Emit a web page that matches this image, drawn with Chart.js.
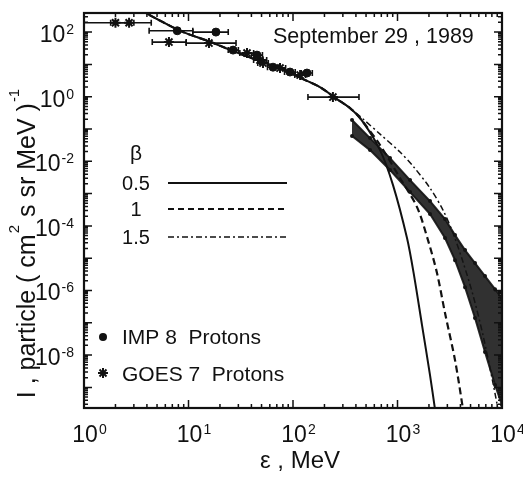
<!DOCTYPE html>
<html>
<head>
<meta charset="utf-8">
<script src="https://cdn.jsdelivr.net/npm/chart.js@4.4.1/dist/chart.umd.min.js"></script>
<style>
  html, body { margin: 0; padding: 0; background: #fff; }
  #wrap { width: 523px; height: 480px; }
</style>
</head>
<body>
<div id="wrap"><canvas id="chart" width="523" height="480"></canvas></div>
<script>
// energy in MeV, intensity in (cm2 s sr MeV)^-1
const modelCommonE = [2.75, 3.75, 8.48, 16.4, 26.7, 45.2, 75.1, 119, 181, 264, 351];
const modelCommonI = [736, 416, 107, 49, 25.8, 13.6, 7.7, 3.77, 1.98, 0.843, 0.444];

// beta = 0.5 (solid)
const beta05E = [468, 681, 906, 1233, 1438, 1716, 2047, 2285, 2443];
const beta05I = [0.164, 0.0222, 1.83e-3, 4.19e-5, 3.0e-6, 8.5e-8, 2.4e-9, 2.1e-10, 4.8e-11];
// beta = 1 (dashed)
const beta1E = [438, 681, 1057, 1538, 1958, 2388, 2849, 3551, 4236, 4529];
const beta1I = [0.217, 0.0317, 3.02e-3, 3.82e-4, 3.63e-5, 3.46e-6, 2.0e-7, 7.0e-9, 2.1e-10, 4.8e-11];
// beta = 1.5 (dash-dot)
const beta15E = [468, 681, 1057, 1407, 2047, 2725, 3398, 4236, 5278, 6577, 8202, 9572];
const beta15I = [0.203, 0.0695, 0.0193, 7.1e-3, 1.48e-3, 3.08e-4, 5.98e-5, 7.6e-6, 7.2e-7, 4.16e-8, 1.36e-9, 9.8e-11];

// dense high energy spectrum, upper / lower envelope of the black band
const bandE  = [367, 546, 848, 1318, 2047, 2849, 3551, 4428, 5516, 6874, 8577, 10000];
const bandHi = [0.189, 0.0522, 0.01256, 2.62e-3, 5.86e-4, 1.63e-4, 5.19e-5, 1.78e-5, 7.05e-6, 2.79e-6, 1.10e-6, 5.8e-7];
const bandLo = [0.0603, 0.0222, 5.35e-3, 1.11e-3, 2.32e-4, 4.19e-5, 8.7e-6, 1.27e-6, 1.40e-7, 1.24e-8, 1.18e-9, 2.83e-10];

// IMP 8 protons
const impE   = [7.8, 18.3, 26.7, 45.2, 64.4, 93.6, 136];
const impI   = [110, 100, 27.7, 19.4, 8.2, 5.8, 5.4];
const impELo = [4.2, 11, 24, 40, 57, 83, 120];
const impEHi = [11, 24, 30, 51, 73, 105, 153];

// GOES 7 protons
const goesE   = [2.0, 2.7, 6.5, 15.7, 36.3, 48.3, 51.6, 75.1, 117, 241];
const goesI   = [195, 195, 49, 45.7, 22.4, 13.6, 11.0, 7.7, 4.67, 0.97];
const goesELo = [1.0, 1.8, 4.5, 9.5, 31, 42, 46, 66, 104, 139];
const goesEHi = [3.0, 4.4, 9.5, 28.5, 42, 56, 58, 85, 132, 428];

const xLabelExp = [0, 1, 2, 3, 4];
const yLabelExp = [2, 0, -2, -4, -6, -8];
const betaLabels = ["0.5", "1", "1.5"];

const FONT = '"Liberation Sans", Arial, sans-serif';

function pts(ex, iy) {
  return ex.map((e, i) => ({ x: e, y: iy[i] }));
}

function curve(tailE, tailI, dash, width) {
  return {
    data: pts(modelCommonE.concat(tailE), modelCommonI.concat(tailI)),
    showLine: true,
    borderColor: "#111",
    borderWidth: width,
    borderDash: dash,
    pointRadius: 0,
    tension: 0.3,
    fill: false,
  };
}

function drawPow(ctx, exp, x, y, align, big, small) {
  ctx.font = big + "px " + FONT;
  const wb = ctx.measureText("10").width;
  ctx.font = small + "px " + FONT;
  const we = ctx.measureText(String(exp)).width;
  let x0;
  if (align === "right") x0 = x - wb - we;
  else x0 = x - (wb + we) / 2 + 5;
  ctx.font = big + "px " + FONT;
  ctx.fillText("10", x0, y);
  ctx.font = small + "px " + FONT;
  ctx.fillText(String(exp), x0 + wb + 1, y - 8);
}

const decor = {
  id: "decor",
  beforeDatasetsDraw(chart) {
    const { ctx, scales: { x, y } } = chart;
    ctx.save();
    ctx.strokeStyle = "#111";
    ctx.lineWidth = 1.6;
    const bars = (E, I, lo, hi) => {
      E.forEach((e, i) => {
        const yy = y.getPixelForValue(I[i]);
        const x1 = Math.max(x.getPixelForValue(lo[i]), chart.chartArea.left);
        const x2 = x.getPixelForValue(hi[i]);
        ctx.beginPath();
        ctx.moveTo(x1, yy); ctx.lineTo(x2, yy);
        ctx.moveTo(x1, yy - 3); ctx.lineTo(x1, yy + 3);
        ctx.moveTo(x2, yy - 3); ctx.lineTo(x2, yy + 3);
        ctx.stroke();
      });
    };
    bars(impE, impI, impELo, impEHi);
    bars(goesE, goesI, goesELo, goesEHi);
    ctx.restore();
  },
  afterDraw(chart) {
    const { ctx, chartArea: a, scales: { x, y } } = chart;
    ctx.save();
    ctx.strokeStyle = "#111";
    ctx.fillStyle = "#111";

    // ticks, pointing in, on all four sides
    ctx.lineWidth = 1.5;
    ctx.beginPath();
    for (let n = 0; n <= 4; n++) {
      for (let k = 1; k <= 9; k++) {
        const v = k * Math.pow(10, n);
        if (v > 10000) break;
        const px = x.getPixelForValue(v);
        const len = k === 1 ? 8 : 4;
        ctx.moveTo(px, a.bottom); ctx.lineTo(px, a.bottom - len);
        ctx.moveTo(px, a.top); ctx.lineTo(px, a.top + len);
      }
    }
    for (let n = -10; n <= 2; n++) {
      for (let k = 1; k <= 9; k++) {
        const v = k * Math.pow(10, n);
        if (v < y.min || v > y.max) continue;
        const py = y.getPixelForValue(v);
        const len = k === 1 ? 8 : 4;
        ctx.moveTo(a.left, py); ctx.lineTo(a.left + len, py);
        ctx.moveTo(a.right, py); ctx.lineTo(a.right - len, py);
      }
    }
    ctx.stroke();

    // frame
    ctx.lineWidth = 2.2;
    ctx.strokeRect(a.left, a.top, a.right - a.left, a.bottom - a.top);

    // tick labels
    ctx.textBaseline = "alphabetic";
    ctx.textAlign = "left";
    xLabelExp.forEach(n => drawPow(ctx, n, x.getPixelForValue(Math.pow(10, n)), 442, "center", 23, 14));
    yLabelExp.forEach(n => drawPow(ctx, n, 73, y.getPixelForValue(Math.pow(10, n)) + 10, "right", 23, 14));

    // x title
    ctx.font = "24px " + FONT;
    ctx.textAlign = "center";
    ctx.fillText("\u03b5 , MeV", 300, 468);

    // y title, rotated, with superscripts
    const parts = [["I , particle ( cm", 0], ["2", 1], [" s sr MeV )", 0], ["-1", 1]];
    ctx.save();
    ctx.translate(35, 243);
    ctx.rotate(-Math.PI / 2);
    ctx.textAlign = "left";
    let total = 0;
    parts.forEach(p => { ctx.font = (p[1] ? 15 : 25) + "px " + FONT; total += ctx.measureText(p[0]).width + (p[1] ? 2 : 0); });
    let cx = -total / 2;
    parts.forEach(p => {
      ctx.font = (p[1] ? 15 : 25) + "px " + FONT;
      ctx.fillText(p[0], cx + (p[1] ? 1 : 0), p[1] ? -16 : 0);
      cx += ctx.measureText(p[0]).width + (p[1] ? 2 : 0);
    });
    ctx.restore();

    // date
    ctx.font = "21.5px " + FONT;
    ctx.textAlign = "left";
    ctx.fillText("September 29 , 1989", 273, 43);

    // beta key
    ctx.textAlign = "center";
    ctx.font = "21px " + FONT;
    ctx.fillText("\u03b2", 136, 160);
    ctx.font = "20px " + FONT;
    const keyY = [183, 209, 237];
    const keyDash = [[], [6, 4], [6, 3, 2, 3]];
    const keyW = [2, 2, 1.4];
    betaLabels.forEach((t, i) => {
      ctx.fillText(t, 136, keyY[i] + 7);
      ctx.beginPath();
      ctx.lineWidth = keyW[i];
      ctx.setLineDash(keyDash[i]);
      ctx.moveTo(168, keyY[i]); ctx.lineTo(287, keyY[i]);
      ctx.stroke();
    });
    ctx.setLineDash([]);

    // data key
    ctx.textAlign = "left";
    ctx.font = "21px " + FONT;
    ctx.beginPath();
    ctx.arc(103, 337, 4, 0, Math.PI * 2);
    ctx.fill();
    ctx.fillText("IMP 8  Protons", 122, 344);
    ctx.lineWidth = 2;
    ctx.beginPath();
    [[0, 5], [5, 0], [3.5, 3.5], [3.5, -3.5]].forEach(([dx, dy]) => {
      ctx.moveTo(103 - dx, 373 - dy); ctx.lineTo(103 + dx, 373 + dy);
    });
    ctx.stroke();
    ctx.fillText("GOES 7  Protons", 122, 381);
    ctx.restore();
  },
};

new Chart(document.getElementById("chart"), {
  type: "scatter",
  data: {
    datasets: [
      {
        label: "band top",
        data: pts(bandE, bandHi),
        showLine: true,
        borderColor: "rgba(20,20,20,0.9)",
        borderWidth: 2,
        pointRadius: 1,
        pointBackgroundColor: "#141414",
        pointBorderColor: "#141414",
        fill: false,
      },
      {
        label: "band bottom",
        data: pts(bandE, bandLo),
        showLine: true,
        borderColor: "rgba(20,20,20,0.9)",
        borderWidth: 2,
        pointRadius: 1,
        pointBackgroundColor: "#141414",
        pointBorderColor: "#141414",
        backgroundColor: "rgba(20,20,20,0.88)",
        fill: "-1",
      },
      Object.assign({ label: "beta 0.5" }, curve(beta05E, beta05I, [], 2)),
      Object.assign({ label: "beta 1" }, curve(beta1E, beta1I, [7, 4], 2.2)),
      Object.assign({ label: "beta 1.5" }, curve(beta15E, beta15I, [6, 3, 2, 3], 1.5)),
      {
        label: "IMP 8 Protons",
        data: pts(impE, impI),
        pointStyle: "circle",
        pointRadius: 4,
        backgroundColor: "#111",
        borderColor: "#111",
      },
      {
        label: "GOES 7 Protons",
        data: pts(goesE, goesI),
        pointStyle: "star",
        pointRadius: 5,
        borderWidth: 2,
        backgroundColor: "#111",
        borderColor: "#111",
      },
    ],
  },
  options: {
    responsive: false,
    animation: false,
    layout: { padding: { left: 84, right: 21, top: 13, bottom: 72 } },
    scales: {
      x: { type: "logarithmic", min: 1, max: 10000, display: false },
      y: { type: "logarithmic", min: 2.3e-10, max: 390, display: false },
    },
    plugins: {
      legend: { display: false },
      tooltip: { enabled: false },
    },
  },
  plugins: [decor],
});
</script>
</body>
</html>
